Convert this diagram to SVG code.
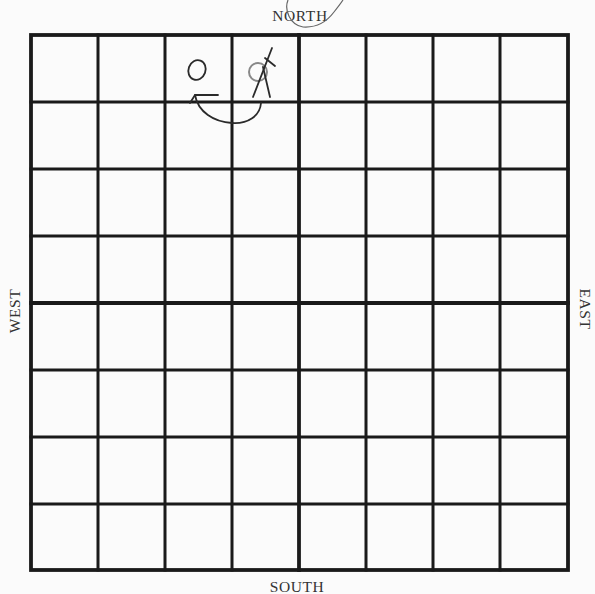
<svg xmlns="http://www.w3.org/2000/svg" width="595" height="594" viewBox="0 0 595 594">
<style>
.g{stroke:#1a1a1a;stroke-linecap:square;fill:none}
.t{font-family:"Liberation Serif",serif;font-size:15.5px;fill:#333;letter-spacing:0.6px}
.h{stroke:#2a2a2a;stroke-width:1.8;fill:none;stroke-linecap:round;stroke-linejoin:round}
</style>
<rect width="595" height="594" fill="#fbfbfb"/>
<g id="grid">
<g class="g" stroke-width="3">
<line x1="98" y1="35" x2="98" y2="570"/>
<line x1="165" y1="35" x2="165" y2="570"/>
<line x1="232" y1="35" x2="232" y2="570"/>
<line x1="366" y1="35" x2="366" y2="570"/>
<line x1="433" y1="35" x2="433" y2="570"/>
<line x1="500" y1="35" x2="500" y2="570"/>
<line x1="31" y1="102" x2="568" y2="102"/>
<line x1="31" y1="169" x2="568" y2="169"/>
<line x1="31" y1="236" x2="568" y2="236"/>
<line x1="31" y1="370" x2="568" y2="370"/>
<line x1="31" y1="437" x2="568" y2="437"/>
<line x1="31" y1="504" x2="568" y2="504"/>
</g>
<g class="g" stroke-width="3.8">
<line x1="299" y1="35" x2="299" y2="570"/>
<line x1="31" y1="303" x2="568" y2="303"/>
<rect x="31" y="35" width="537" height="535"/>
</g>
</g>
<g id="labels">
<text class="t" x="300" y="21" text-anchor="middle">NORTH</text>
<text class="t" x="297" y="592" text-anchor="middle">SOUTH</text>
<text class="t" transform="translate(20,311) rotate(-90)" text-anchor="middle">WEST</text>
<text class="t" transform="translate(580,309) rotate(90)" text-anchor="middle">EAST</text>
</g>
<g id="marks">
<path d="M288,0 C284,10 290,25 303,27 C318,28 328,20 334,12 C338,7 341,3 343,0" fill="none" stroke="#666" stroke-width="1.2"/>
<ellipse class="h" cx="197" cy="70" rx="8.5" ry="10" transform="rotate(20 197 70)"/>
<circle cx="258" cy="72" r="9" fill="none" stroke="#888" stroke-width="2"/>
<path class="h" d="M272,48 L253,97"/>
<path class="h" d="M265,58 L275,66"/>
<path class="h" d="M263,67 L270,97" stroke="#666"/>
<path class="h" d="M261,103 C260,116 248,124 232,123 C214,122 198,112 195,95"/>
<path class="h" d="M190,103 L195,95 L218,95"/>
</g>
</svg>
